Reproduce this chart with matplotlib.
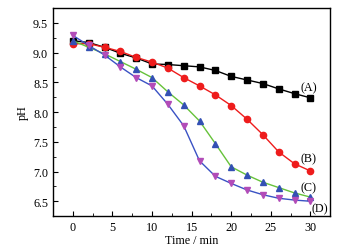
import matplotlib
matplotlib.use('Agg')
import matplotlib.pyplot as plt
from matplotlib.ticker import MultipleLocator

plt.rcParams['font.family'] = 'Liberation Serif'
plt.rcParams['font.size'] = 8.7

# Data
time = [0, 2, 4, 6, 8, 10, 12, 14, 16, 18, 20, 22, 24, 26, 28, 30]
ph_a = [9.20, 9.17, 9.09, 8.99, 8.91, 8.81, 8.80, 8.78, 8.76, 8.70, 8.60, 8.54, 8.48, 8.39, 8.31, 8.24]
ph_b = [9.15, 9.15, 9.09, 9.02, 8.92, 8.84, 8.74, 8.58, 8.44, 8.29, 8.11, 7.88, 7.62, 7.33, 7.13, 7.01]
ph_c = [9.20, 9.09, 8.98, 8.85, 8.72, 8.58, 8.34, 8.12, 7.85, 7.47, 7.08, 6.94, 6.82, 6.73, 6.64, 6.57]
ph_d = [9.29, 9.12, 8.96, 8.76, 8.58, 8.44, 8.13, 7.77, 7.18, 6.92, 6.80, 6.69, 6.61, 6.55, 6.52, 6.50]
labels = ['(A)', '(B)', '(C)', '(D)']

fig = plt.figure(figsize=(3.49, 2.51), dpi=100)
ax = fig.add_axes([0.152, 0.135, 0.794, 0.829])

ax.plot(time, ph_a, '-s', color='black', mfc='black', mec='black', ms=4, lw=1)
ax.plot(time, ph_b, '-o', color='#ee1c1c', mfc='#ee1c1c', mec='#ee1c1c', ms=4.5, lw=1)
ax.plot(time, ph_c, '-^', color='#66c23a', mfc='#3350b4', mec='#3350b4', ms=5, lw=1)
ax.plot(time, ph_d, '-v', color='#3a52c4', mfc='#b24cb8', mec='#b24cb8', ms=5, lw=1)

# curve labels
ax.text(29.8, 8.41, labels[0], ha='center', va='center')
ax.text(29.8, 7.23, labels[1], ha='center', va='center')
ax.text(29.8, 6.74, labels[2], ha='center', va='center')
ax.text(31.2, 6.38, labels[3], ha='center', va='center')

ax.set_xlim(-2.5, 32.5)
ax.set_ylim(6.25, 9.75)
ax.xaxis.set_major_locator(MultipleLocator(5))
ax.xaxis.set_minor_locator(MultipleLocator(2.5))
ax.yaxis.set_major_locator(MultipleLocator(0.5))
ax.yaxis.set_minor_locator(MultipleLocator(0.25))
ax.tick_params(which='both', direction='in')
ax.tick_params(which='major', length=3.5)
ax.tick_params(which='minor', length=2)
ax.set_xlabel('Time / min', labelpad=1)
ax.set_ylabel('pH', labelpad=3)
for s in ax.spines.values():
    s.set_linewidth(1)

fig.savefig('out.png', dpi=100)
